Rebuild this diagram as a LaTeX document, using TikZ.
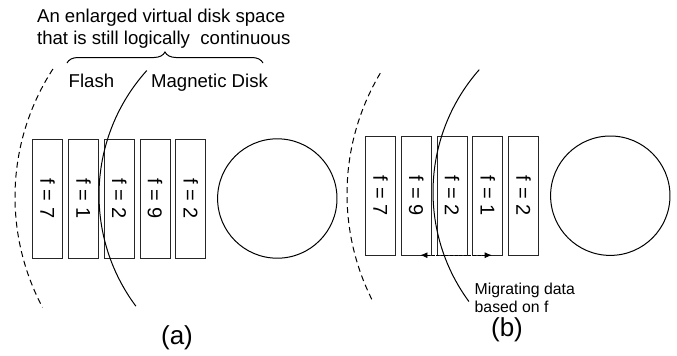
\documentclass[tikz,border=0pt]{standalone}
\usepackage{fontspec}
\setmainfont{Liberation Sans}
\usepackage{graphicx}
\usepackage{tikz}
\usetikzlibrary{arrows.meta, positioning}
\usetikzlibrary{decorations.pathreplacing}
\tikzstyle{edge} = [line width=0.5pt]
\tikzstyle{faredge} = [line width=0.5pt, dash pattern=on 3pt off 2pt]
\tikzset{
  block/.style={draw=black!85, line width=0.5pt, rectangle, outer sep=0pt, inner sep=0pt, minimum width=15pt, minimum height=59.5pt, font=\fontsize{10}{12}\selectfont},
  platter/.style={draw, line width=0.5pt, circle, inner sep=0pt, minimum size=59.7pt},
  migrate/.style={line width=0.4pt, dash pattern=on 1.5pt off 0.8pt, {Latex[length=3.6pt,width=3pt]}-{Latex[length=3.6pt,width=3pt]}},
  caption/.style={inner sep=0pt, font=\fontsize{9.3}{11.35}\selectfont}
}

\begin{document}
\begin{tikzpicture}[x=0.5pt, y=-0.5pt]
    \useasboundingbox (0,0) rectangle (677,355);
    % panel (a)
    \node (A7) [block] at (47.7,198.5) {\rotatebox{-90}{f = 7}};
    \node (A1) [block, right=2.9pt of A7] {\rotatebox{-90}{f = 1}};
    \node (A2) [block, right=2.9pt of A1] {\rotatebox{-90}{f = 2}};
    \node (A9) [block, right=2.9pt of A2] {\rotatebox{-90}{f = 9}};
    \node (A2b) [block, right=2.9pt of A9] {\rotatebox{-90}{f = 2}};
    \node (Adisk) [platter, right=5.6pt of A2b] {};
    \node (Alabel) [font=\fontsize{13}{15}\selectfont] at (177,338) {(a)};
    % panel (b)
    \node (B7) [block] at (380.5,195.7) {\rotatebox{-90}{f = 7}};
    \node (B9) [block, right=2.9pt of B7] {\rotatebox{-90}{f = 9}};
    \node (B2) [block, right=2.9pt of B9] {\rotatebox{-90}{f = 2}};
    \node (B1) [block, right=2.9pt of B2] {\rotatebox{-90}{f = 1}};
    \node (B2b) [block, right=2.9pt of B1] {\rotatebox{-90}{f = 2}};
    \node (Bdisk) [platter, right=5.7pt of B2b] {};
    \node (Blabel) [font=\fontsize{13}{15}\selectfont] at (507,329.5) {(b)};
    % texts
    \node (space) [caption, anchor=north west, align=left] at (36.7,8.3)
      {An enlarged virtual disk space\\that is still logically\ \ continuous};
    \node (flash) [caption, anchor=base west] at (68.3,87) {Flash};
    \node (magnetic) [caption, anchor=base west] at (150.7,87) {Magnetic Disk};
    \node (migtext) [anchor=north west, inner sep=0pt, align=left, font=\fontsize{7.9}{9}\selectfont] at (474.3,282.5)
      {Migrating data\\based on f};
    % brace
    \coordinate (braceL) at (67,63);
    \coordinate (braceR) at (263,63);
    \draw [edge, decorate, decoration={brace, amplitude=5.5pt}] (braceL) -- (braceR);
    % arcs
    \draw [faredge] (250,197) ++(213:235) arc[start angle=213, end angle=152, radius=235];
    \draw [edge] (285,195) ++(222:186) arc[start angle=222, end angle=143.3, radius=186];
    \draw [faredge] (583,194) ++(210.8:236) arc[start angle=210.8, end angle=153, radius=236];
    \draw [edge] (618,192) ++(221.4:185) arc[start angle=221.4, end angle=143.7, radius=185];
    % arrows
    \draw [migrate] ([xshift=2pt]B9.south) -- ([xshift=2pt]B1.south);
\end{tikzpicture}
\end{document}
